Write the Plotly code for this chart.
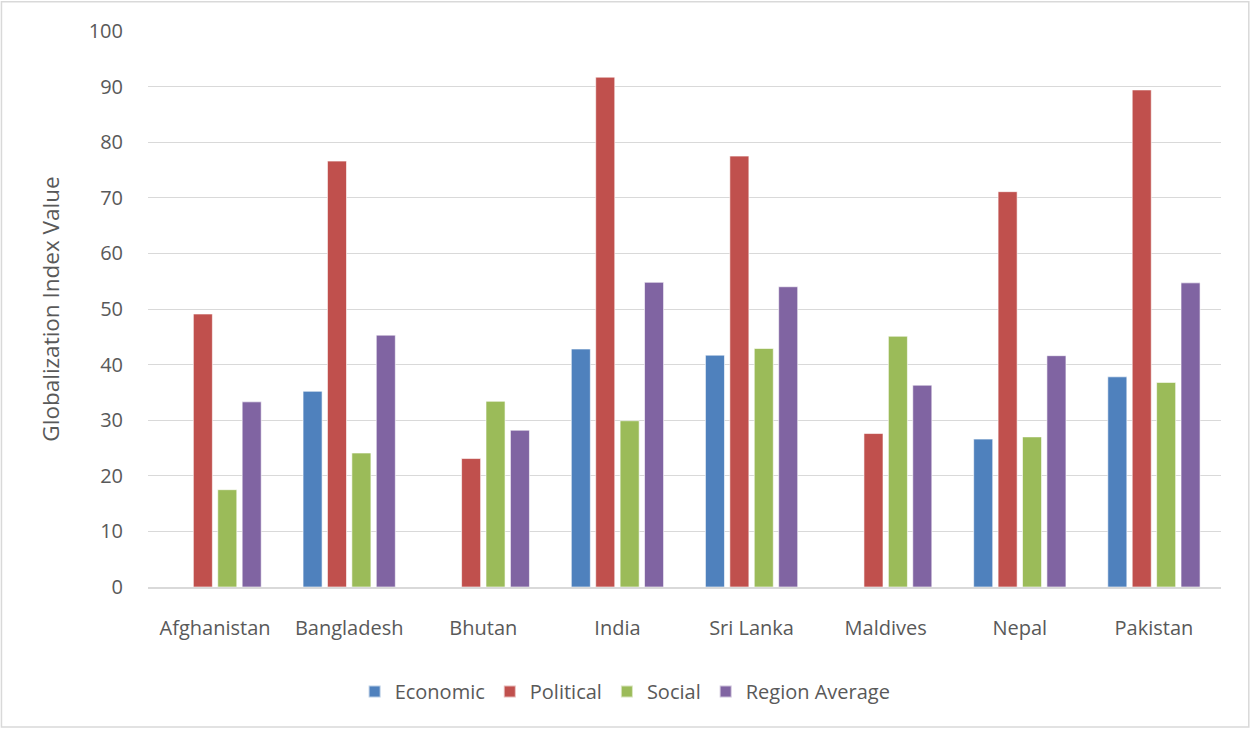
import plotly.graph_objects as go

countries = ["Afghanistan", "Bangladesh", "Bhutan", "India", "Sri Lanka", "Maldives", "Nepal", "Pakistan"]
economic = [None, 35.2, None, 42.8, 41.7, None, 26.6, 37.8]
political = [49.1, 76.6, 23.1, 91.7, 77.5, 27.6, 71.1, 89.4]
social = [17.5, 24.1, 33.4, 29.9, 42.9, 45.1, 27.0, 36.8]
region_avg = [33.3, 45.3, 28.2, 54.8, 54.0, 36.3, 41.6, 54.7]

series = [
    ("Economic", economic, "#4F81BD"),
    ("Political", political, "#C0504D"),
    ("Social", social, "#9BBB59"),
    ("Region Average", region_avg, "#8064A2"),
]

W, H = 1250, 729
L, R, T, B = 148, 29.3, 30.7, 141.7
pw, ph = W - L - R, H - T - B

def px_x(x):
    return (x - L) / pw

def px_y(y):
    return (H - B - y) / ph

font_family = "Open Sans, Liberation Sans, sans-serif"
txt = "#595959"

fig = go.Figure()
for name, vals, col in series:
    fig.add_trace(go.Bar(
        name=name, x=countries, y=vals,
        marker=dict(color=col, line=dict(color="rgba(255,255,255,0.6)", width=1)),
    ))

fig.update_layout(
    width=W, height=H,
    margin=dict(l=L, r=R, t=T, b=B, pad=0),
    paper_bgcolor="white", plot_bgcolor="white",
    barmode="group", bargap=0.272, bargroupgap=0.22,
    font=dict(family=font_family, color=txt, size=20),
    showlegend=True,
    legend=dict(orientation="h", x=px_x(625), xanchor="center", y=px_y(692), yanchor="middle",
                font=dict(size=20, color=txt), itemsizing="constant", traceorder="normal",
                itemwidth=30),
    xaxis=dict(showgrid=False, showline=True, linecolor="#D9D9D9", linewidth=1.5,
               ticks="", ticklabelstandoff=22, tickfont=dict(size=20, color=txt)),
    yaxis=dict(range=[0, 100], dtick=10, showgrid=True, gridcolor="#D9D9D9", gridwidth=1.2,
               zeroline=False, showline=False, ticks="", ticklabelstandoff=24,
               tickfont=dict(size=20, color=txt),
               title=dict(text="Globalization Index Value", font=dict(size=22.5, color=txt), standoff=22)),
    shapes=[dict(type="rect", xref="paper", yref="paper",
                 x0=px_x(1.5), x1=px_x(1248.5), y0=px_y(727.5), y1=px_y(1.5),
                 line=dict(color="#D9D9D9", width=1.5), fillcolor="rgba(0,0,0,0)", layer="below")],
)

fig.write_html("out.html")
